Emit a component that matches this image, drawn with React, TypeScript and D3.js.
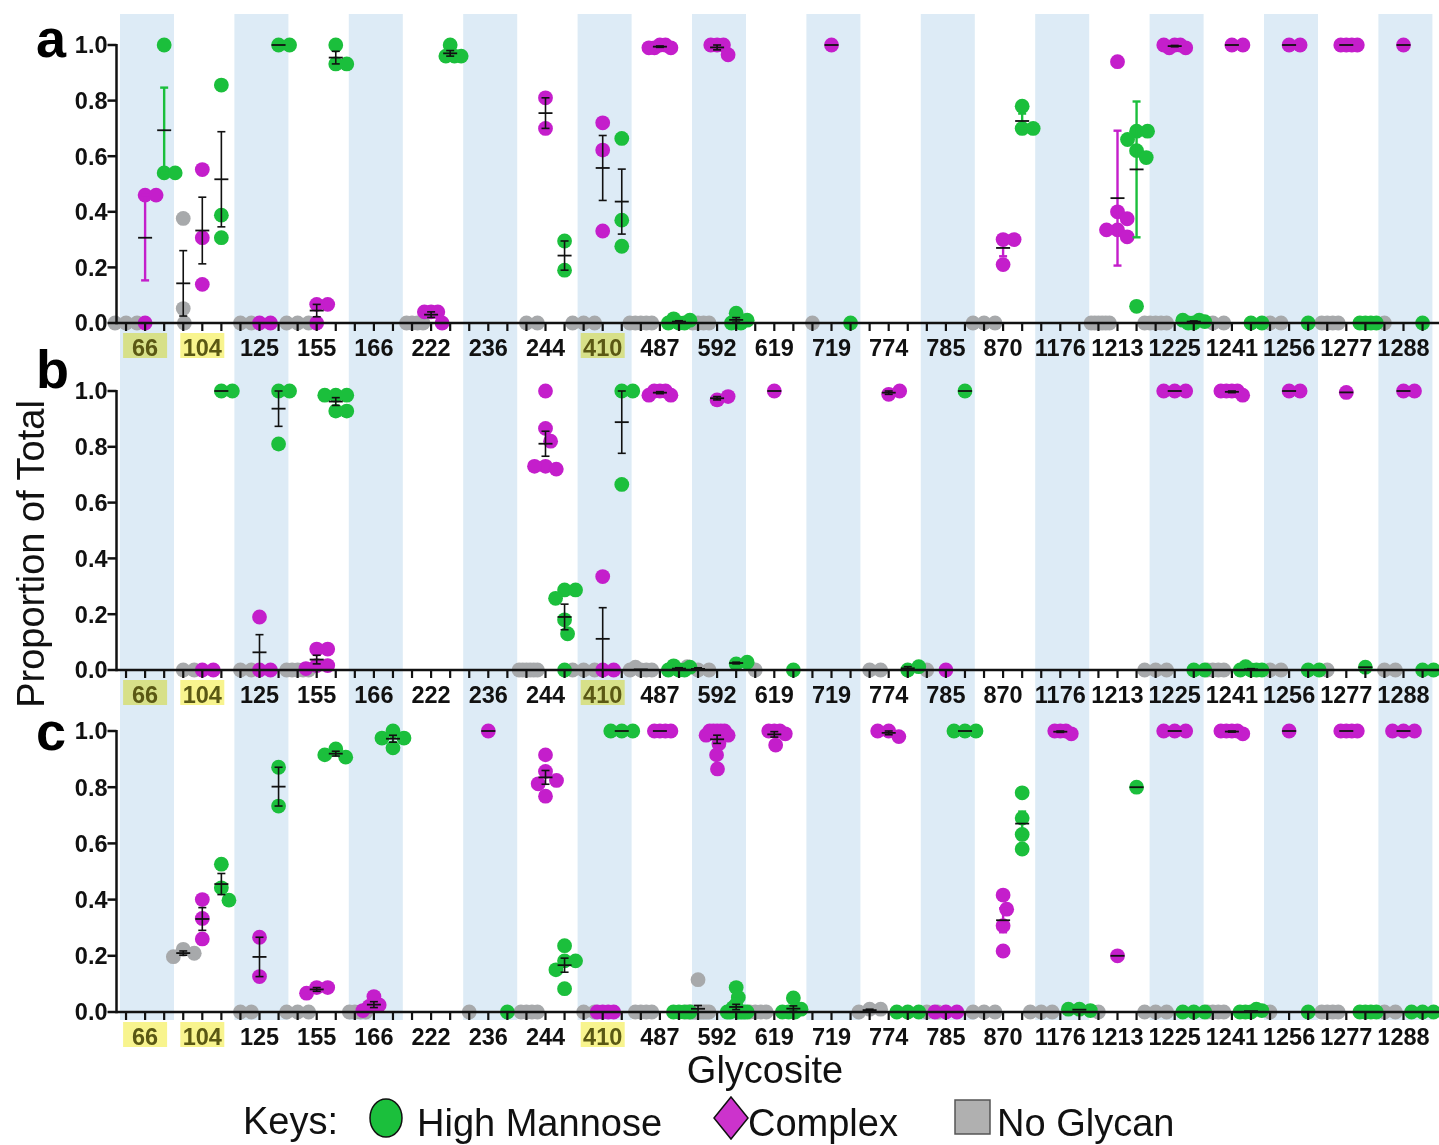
import React from 'react';
import * as d3 from 'd3';

// glycosites along the x axis
const glycosites = ['66', '104', '125', '155', '166', '222', '236', '244', '410', '487', '592', '619',
  '719', '774', '785', '870', '1176', '1213', '1225', '1241', '1256', '1277', '1288'];
const highlightedSites = ['66', '104', '410'];
const yTicks = [0, 0.2, 0.4, 0.6, 0.8, 1.0];
const seriesKeys = ['noGlycan', 'complex', 'highMannose'];

// panel a, one list of replicate values per glycosite
const noGlycanA = [[0, 0, 0], [0.376, 0.052, 0], [0, 0], [0, 0, 0], [], [0, 0, 0, 0], [], [0, 0], [0, 0, 0],
  [0, 0, 0, 0, 0], [0, 0, 0, 0], [], [0], [], [], [0, 0, 0], [], [0, 0, 0, 0, 0, 0], [0, 0, 0, 0, 0], [0, 0], [0, 0],
  [0, 0, 0, 0], [0]];
const complexA = [[0.46, 0.46, 0], [0.552, 0.307, 0.139], [0, 0], [0.067, 0.067, 0], [], [0.04, 0.04, 0.04, 0], [],
  [0.81, 0.70], [0.72, 0.622, 0.331], [1, 1, 0.99, 0.99, 0.99], [1, 1, 1, 0.965], [], [1], [], [], [0.30, 0.30, 0.21],
  [], [0.94, 0.40, 0.375, 0.335, 0.335, 0.31], [1, 1, 0.99, 0.99, 1], [1, 1], [1, 1], [1, 1, 1, 1], [1]];
const highMannoseA = [[1.0, 0.54, 0.54], [0.856, 0.388, 0.307], [1, 1], [1.0, 0.932, 0.932], [], [1.0, 0.96, 0.96, 0.96],
  [], [0.295, 0.19], [0.664, 0.37, 0.276], [0, 0, 0.015, 0, 0.01], [0.035, 0, 0, 0.01], [], [0], [], [],
  [0.78, 0.70, 0.70], [], [0.69, 0.69, 0.66, 0.62, 0.595, 0.06], [0, 0.01, 0, 0.005, 0.01], [0, 0], [0], [0, 0, 0, 0], [0]];

// panel b
const noGlycanB = [[], [0, 0], [0, 0], [0, 0, 0, 0, 0], [], [], [], [0, 0, 0, 0, 0, 0], [0, 0, 0], [0, 0, 0.01, 0, 0],
  [0, 0, 0.012], [0], [], [0, 0], [0], [], [], [], [0, 0, 0], [0, 0, 0, 0], [0, 0], [0], [0, 0]];
const complexB = [[], [0, 0], [0.19, 0, 0], [0.075, 0.075, 0.016, 0.016, 0.005], [], [], [],
  [1.0, 0.866, 0.82, 0.73, 0.72, 0.73], [0.335, 0, 0], [1, 1, 1, 0.985, 0.985], [0.968, 0.98], [1], [], [0.988, 1.0],
  [0], [], [], [], [1, 1, 1], [1, 1, 1, 0.985, 1], [1, 1], [0.995], [1, 1]];
const highMannoseB = [[], [1, 1], [1, 1, 0.81], [0.985, 0.985, 0.985, 0.928, 0.928], [], [], [],
  [0.287, 0.287, 0.257, 0.18, 0.13, 0], [1, 1, 0.665], [0, 0, 0.015, 0, 0.01], [0.022, 0.028], [0], [], [0, 0.012],
  [1], [], [], [], [0, 0], [0, 0, 0.012, 0, 0], [0, 0], [0.01], [0, 0]];

// panel c
const noGlycanC = [[], [0.223, 0.209, 0.197], [0, 0], [0, 0, 0], [0, 0, 0, 0], [], [0], [0, 0, 0, 0], [0, 0],
  [0, 0, 0, 0], [0.115, 0, 0, 0, 0, 0, 0, 0, 0, 0], [0, 0, 0, 0], [], [0.01, 0.01, 0], [0, 0], [0, 0, 0], [0, 0, 0],
  [0], [0, 0, 0], [0, 0, 0, 0], [0], [0, 0, 0, 0], [0, 0]];
const complexC = [[], [0.40, 0.333, 0.26], [0.266, 0.126], [0.087, 0.087, 0.067], [0.055, 0.025, 0.02, 0.005], [],
  [1], [0.915, 0.856, 0.824, 0.812, 0.768], [0, 0, 0, 0], [1, 1, 1, 1],
  [1, 1, 1, 1, 1, 0.985, 0.985, 0.955, 0.915, 0.865], [1, 1, 1, 0.99, 0.95], [], [1.0, 0.98, 1.0], [0, 0, 0],
  [0.416, 0.366, 0.307, 0.217], [1, 1, 1, 0.99], [0.2], [1, 1, 1], [1, 1, 1, 0.99, 1], [1], [1, 1, 1, 1], [1, 1, 1]];
const highMannoseC = [[], [0.526, 0.442, 0.398], [0.871, 0.733], [0.936, 0.907, 0.915], [1.0, 0.975, 0.975, 0.94],
  [], [0], [0.236, 0.182, 0.182, 0.15, 0.083], [1, 1, 1], [0, 0, 0, 0],
  [0.087, 0.052, 0.025, 0.015, 0, 0, 0, 0, 0, 0], [0.05, 0, 0, 0.01, 0], [], [0, 0, 0], [1, 1, 1],
  [0.78, 0.69, 0.632, 0.58], [0.01, 0.005, 0.01], [0.8], [0, 0, 0], [0, 0.01, 0, 0.005, 0], [0], [0, 0, 0, 0],
  [0, 0, 0]];

// error bars drawn in the series colour instead of black
const colouredErrorBars = ['a-66-complex', 'a-66-highMannose', 'a-870-complex', 'a-870-highMannose',
  'a-1213-complex', 'a-1213-highMannose', 'c-870-complex', 'c-870-highMannose'];
// these show SD, all other bars show SEM
const sdErrorBars = ['a-1213-complex', 'a-1213-highMannose'];

const colors = { noGlycan: '#a7a9ab', complex: '#c41ecb', highMannose: '#1bbf3c' };
const FONT = '"Liberation Sans", Arial, Helvetica, sans-serif';

const panels = [
  { letter: 'a', series: { noGlycan: noGlycanA, complex: complexA, highMannose: highMannoseA }, y0: 323, y1: 45, letterY: 57 },
  { letter: 'b', series: { noGlycan: noGlycanB, complex: complexB, highMannose: highMannoseB }, y0: 670, y1: 391, letterY: 388 },
  { letter: 'c', series: { noGlycan: noGlycanC, complex: complexC, highMannose: highMannoseC }, y0: 1012, y1: 731, letterY: 750 },
];

const width = 1439;
const height = 1145;
const axisX = 116.5;
const R = 7.4;

const xOuter = d3.scaleBand().domain(glycosites).range([axisX, axisX + 23 * 57.2]);
const xInner = d3.scalePoint().domain(seriesKeys).range([0, xOuter.bandwidth()]).padding(0.5);

// simple beeswarm: place each point at the nearest free x offset
function swarm(values: number[], y: (v: number) => number, d: number, lim: number): number[] {
  const placed: { x: number; y: number }[] = [];
  const out: number[] = [];
  values.forEach(v => {
    const py = y(v);
    const blocked: [number, number][] = [];
    placed.forEach(p => {
      const dy = Math.abs(p.y - py);
      if (dy < d) {
        const w = Math.sqrt(d * d - dy * dy);
        blocked.push([p.x - w, p.x + w]);
      }
    });
    const cands = [0];
    blocked.forEach(([a, b]) => cands.push(a, b));
    cands.sort((m, n) => Math.abs(m) - Math.abs(n) || n - m);
    const x = cands.find(c => blocked.every(([a, b]) => c <= a + 1e-6 || c >= b - 1e-6)) ?? 0;
    placed.push({ x, y: py });
    out.push(x);
  });
  const maxAbs = d3.max(out, o => Math.abs(o)) || 0;
  return maxAbs > lim ? out.map(o => (o * lim) / maxAbs) : out;
}

function Panel({ panel }: { panel: typeof panels[number] }) {
  const y = d3.scaleLinear().domain([0, 1]).range([panel.y0, panel.y1]);
  const bw = xOuter.bandwidth();
  const groups: JSX.Element[] = [];
  const bars: JSX.Element[] = [];

  seriesKeys.forEach(key => {
    const lists: number[][] = (panel.series as any)[key];
    lists.forEach((vals, i) => {
      if (!vals.length) return;
      const site = glycosites[i];
      const id = `${panel.letter}-${site}-${key}`;
      const cx = (xOuter(site) as number) + (xInner(key) as number);
      const offs = swarm(vals, y, 14.5, 11);
      vals.forEach((v, j) => {
        groups.push(<circle key={`${key}-${site}-${j}`} cx={cx + offs[j]} cy={y(v)} r={R} fill={colors[key as keyof typeof colors]} />);
      });
      const mean = d3.mean(vals) as number;
      const sd = vals.length > 1 ? (d3.deviation(vals) as number) : 0;
      const err = sdErrorBars.includes(id) ? sd : sd / Math.sqrt(vals.length);
      const coloured = colouredErrorBars.includes(id);
      const col = coloured ? colors[key as keyof typeof colors] : '#111';
      const sw = coloured ? 2.4 : 1.6;
      if (err > 0.002) {
        bars.push(
          <g key={`eb-${key}-${site}`} stroke={col} strokeWidth={sw}>
            <line x1={cx} x2={cx} y1={y(mean - err)} y2={y(mean + err)} />
            <line x1={cx - 4} x2={cx + 4} y1={y(mean - err)} y2={y(mean - err)} />
            <line x1={cx - 4} x2={cx + 4} y1={y(mean + err)} y2={y(mean + err)} />
          </g>
        );
      }
      bars.push(<line key={`m-${key}-${site}`} x1={cx - 7} x2={cx + 7} y1={y(mean)} y2={y(mean)} stroke="#111" strokeWidth={1.8} />);
    });
  });

  return (
    <g>
      {/* x tick labels with highlights */}
      {glycosites.map(site => {
        const cx = (xOuter(site) as number) + bw / 2;
        const hl = highlightedSites.includes(site);
        return (
          <g key={`lab-${site}`}>
            {hl && <rect x={cx - 22} y={panel.y0 + 10} width={44} height={25} fill="#f8f48e" style={{ mixBlendMode: 'multiply' }} />}
            <text x={cx} y={panel.y0 + 33} textAnchor="middle" fontFamily={FONT} fontWeight="bold" fontSize={23.5}
              fill={hl ? '#5a5814' : '#111'}>{site}</text>
          </g>
        );
      })}
      {groups}
      {bars}
      {/* axes */}
      <line x1={axisX} x2={width} y1={panel.y0} y2={panel.y0} stroke="#111" strokeWidth={2.5} />
      <line x1={axisX} x2={axisX} y1={y(1) - 1} y2={panel.y0 + 1.2} stroke="#111" strokeWidth={2.5} />
      {glycosites.flatMap(site => seriesKeys.map(key => {
        const tx = (xOuter(site) as number) + (xInner(key) as number);
        return <line key={`xt-${site}-${key}`} x1={tx} x2={tx} y1={panel.y0} y2={panel.y0 + 8} stroke="#111" strokeWidth={2.2} />;
      }))}
      {yTicks.map(t => (
        <g key={`yt-${t}`}>
          <line x1={axisX - 9} x2={axisX} y1={y(t)} y2={y(t)} stroke="#111" strokeWidth={2.5} />
          <text x={axisX - 9} y={y(t)} dy="0.36em" textAnchor="end" fontFamily={FONT} fontWeight="bold" fontSize={23.5} fill="#111">
            {t.toFixed(1)}
          </text>
        </g>
      ))}
      <text x={36} y={panel.letterY} fontFamily={FONT} fontWeight="bold" fontSize={54} fill="#000">{panel.letter}</text>
    </g>
  );
}

export default function App() {
  const bw = xOuter.bandwidth();
  return (
    <svg width={width} height={height} style={{ position: 'absolute', left: 0, top: 0, background: '#fff' }}>
      <rect width={width} height={height} fill="#fff" />
      {glycosites.map((site, i) => i % 2 === 0 && (
        <rect key={`band-${site}`} x={(xOuter(site) as number) + 3.5} y={14} width={bw - 3.2} height={1006} fill="#ddebf6" />
      ))}
      {panels.map(p => <Panel key={p.letter} panel={p} />)}
      <text transform="translate(44,554) rotate(-90)" textAnchor="middle" fontFamily={FONT} fontSize={38} fill="#111">
        Proportion of Total
      </text>
      <text x={765} y={1083} textAnchor="middle" fontFamily={FONT} fontSize={38} fill="#111">Glycosite</text>
      {/* legend */}
      <g fontFamily={FONT} fontSize={38} fill="#111">
        <text x={243} y={1134}>Keys:</text>
        <ellipse cx={386} cy={1118} rx={16} ry={19} fill={colors.highMannose} stroke="#111" strokeWidth={1.5} />
        <text x={417} y={1136}>High Mannose</text>
        <path d="M731,1097 L748,1118 L731,1139 L714,1118 Z" fill="#cc33cc" stroke="#111" strokeWidth={1.5} />
        <text x={748} y={1136}>Complex</text>
        <rect x={955} y={1100} width={35} height={34} fill="#b0b0b0" stroke="#555" strokeWidth={1.5} />
        <text x={997} y={1136}>No Glycan</text>
      </g>
    </svg>
  );
}
